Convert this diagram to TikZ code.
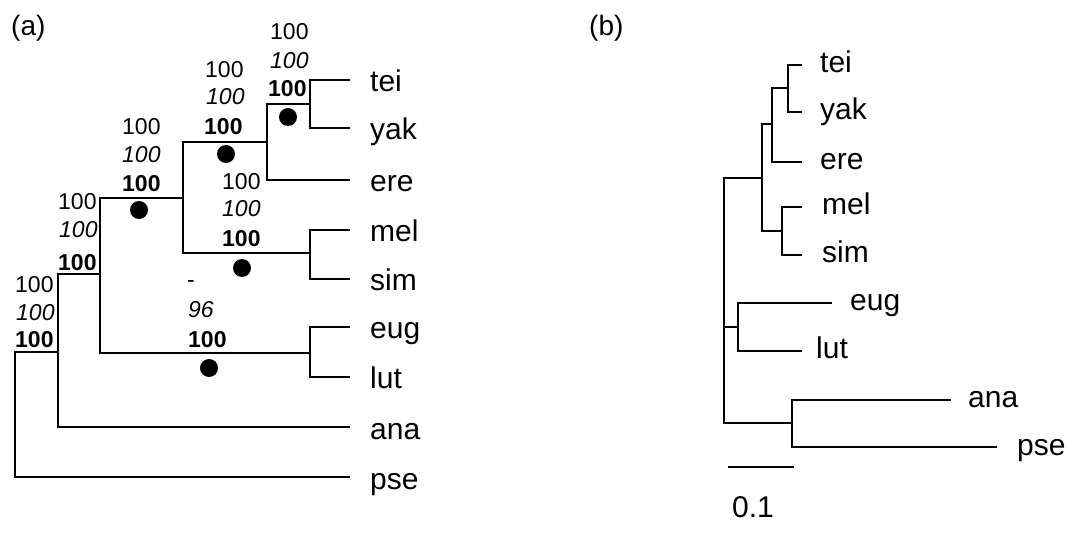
\documentclass[tikz,border=0pt]{standalone}
\usepackage{fontspec}
\setmainfont{Liberation Sans}
\begin{document}
\begin{tikzpicture}[x=1pt,y=-1pt,
  branch/.style={line width=1.8pt},
  taxon/.style={anchor=base west,inner sep=0pt,font=\fontsize{30}{34}\selectfont},
  panel/.style={anchor=base west,inner sep=0pt,font=\fontsize{28}{32}\selectfont},
  bnorm/.style={anchor=base west,inner sep=0pt,font=\fontsize{23}{26}\selectfont},
  bital/.style={anchor=base west,inner sep=0pt,font=\fontsize{23}{26}\selectfont\itshape},
  bbold/.style={anchor=base west,inner sep=0pt,font=\fontsize{23}{26}\selectfont\bfseries},
  dot/.style={circle,fill=black,inner sep=0pt,minimum size=18pt}]
\useasboundingbox (0,0) rectangle (1077,553);
\fill[white] (0,0) rectangle (1077,553);

% ---------- (a) consensus tree ----------
\node[panel] (pa) at (11,36) {(a)};
\coordinate (a1) at (310,104);
\coordinate (a2) at (267,142);
\coordinate (a3) at (310,253);
\coordinate (a4) at (183,198);
\coordinate (a5) at (310,353);
\coordinate (a6) at (100,274);
\coordinate (a7) at (58,352);
\coordinate (ar) at (15,414);
\coordinate (atei) at (350,80);
\coordinate (ayak) at (350,128);
\coordinate (aere) at (350,180);
\coordinate (amel) at (350,230);
\coordinate (asim) at (350,279);
\coordinate (aeug) at (350,327);
\coordinate (alut) at (350,377);
\coordinate (aana) at (350,427);
\coordinate (apse) at (350,477);

\draw[branch] (a1) |- (atei) (a1) |- (ayak);
\draw[branch] (a2) |- (a1) (a2) |- (aere);
\draw[branch] (a3) |- (amel) (a3) |- (asim);
\draw[branch] (a4) |- (a2) (a4) |- (a3);
\draw[branch] (a5) |- (aeug) (a5) |- (alut);
\draw[branch] (a6) |- (a4) (a6) |- (a5);
\draw[branch] (a7) |- (a6) (a7) |- (aana);
\draw[branch] (ar) |- (a7) (ar) |- (apse);

\node[taxon] (ltei) at (370,92) {tei};
\node[taxon] (lyak) at (370,140) {yak};
\node[taxon] (lere) at (370,192) {ere};
\node[taxon] (lmel) at (370,242) {mel};
\node[taxon] (lsim) at (370,291) {sim};
\node[taxon] (leug) at (370,339) {eug};
\node[taxon] (llut) at (370,389) {lut};
\node[taxon] (lana) at (370,439) {ana};
\node[taxon] (lpse) at (370,489) {pse};

% support values: plain / italic / bold
\node[bnorm] (s1a) at (270,40) {100};
\node[bital] (s1b) at (270,69) {100};
\node[bbold] (s1c) at (268,97) {100};
\node[bnorm] (s2a) at (205,78) {100};
\node[bital] (s2b) at (206,105) {100};
\node[bbold] (s2c) at (204,135) {100};
\node[bnorm] (s3a) at (122,135) {100};
\node[bital] (s3b) at (122,163) {100};
\node[bbold] (s3c) at (122,192) {100};
\node[bnorm] (s4a) at (222,190) {100};
\node[bital] (s4b) at (222,217) {100};
\node[bbold] (s4c) at (222,247) {100};
\node[bnorm] (s5a) at (58,210) {100};
\node[bital] (s5b) at (59,238) {100};
\node[bbold] (s5c) at (58,271) {100};
\node[bnorm] (s6a) at (15,293) {100};
\node[bital] (s6b) at (16,321) {100};
\node[bbold] (s6c) at (15,348) {100};
\node[bnorm] (s7a) at (187,288) {-};
\node[bital] (s7b) at (188,318) {96};
\node[bbold] (s7c) at (188,348) {100};

\node[dot] (d1) at (288,117) {};
\node[dot] (d2) at (226,154) {};
\node[dot] (d3) at (139,210) {};
\node[dot] (d4) at (242,268) {};
\node[dot] (d5) at (209,368) {};

% ---------- (b) distance tree ----------
\node[panel] (pb) at (589,36) {(b)};
\coordinate (b1) at (788,88);
\coordinate (b2) at (772,124);
\coordinate (b3) at (782,231);
\coordinate (b4) at (762,178);
\coordinate (b5) at (738,327);
\coordinate (b6) at (792,423);
\coordinate (br) at (724,300);
\coordinate (btei) at (802,65);
\coordinate (byak) at (802,112);
\coordinate (bere) at (802,162);
\coordinate (bmel) at (802,207);
\coordinate (bsim) at (802,255);
\coordinate (beug) at (832,303);
\coordinate (blut) at (802,351);
\coordinate (bana) at (951,400);
\coordinate (bpse) at (997,447);

\draw[branch] (b1) |- (btei) (b1) |- (byak);
\draw[branch] (b2) |- (b1) (b2) |- (bere);
\draw[branch] (b3) |- (bmel) (b3) |- (bsim);
\draw[branch] (b4) |- (b2) (b4) |- (b3);
\draw[branch] (b5) |- (beug) (b5) |- (blut);
\draw[branch] (b6) |- (bana) (b6) |- (bpse);
\draw[branch] (br) |- (b4) (br) |- (b5) (br) |- (b6);

\node[taxon] (rtei) at (820,73) {tei};
\node[taxon] (ryak) at (820,120) {yak};
\node[taxon] (rere) at (820,170) {ere};
\node[taxon] (rmel) at (822,215) {mel};
\node[taxon] (rsim) at (822,263) {sim};
\node[taxon] (reug) at (850,311) {eug};
\node[taxon] (rlut) at (816,359) {lut};
\node[taxon] (rana) at (968,408) {ana};
\node[taxon] (rpse) at (1017,455) {pse};

% scale bar
\coordinate (sb1) at (728,467);
\coordinate (sb2) at (794,467);
\draw[branch] (sb1) -- (sb2);
\node[taxon] (sbl) at (732,517) {0.1};
\end{tikzpicture}
\end{document}
